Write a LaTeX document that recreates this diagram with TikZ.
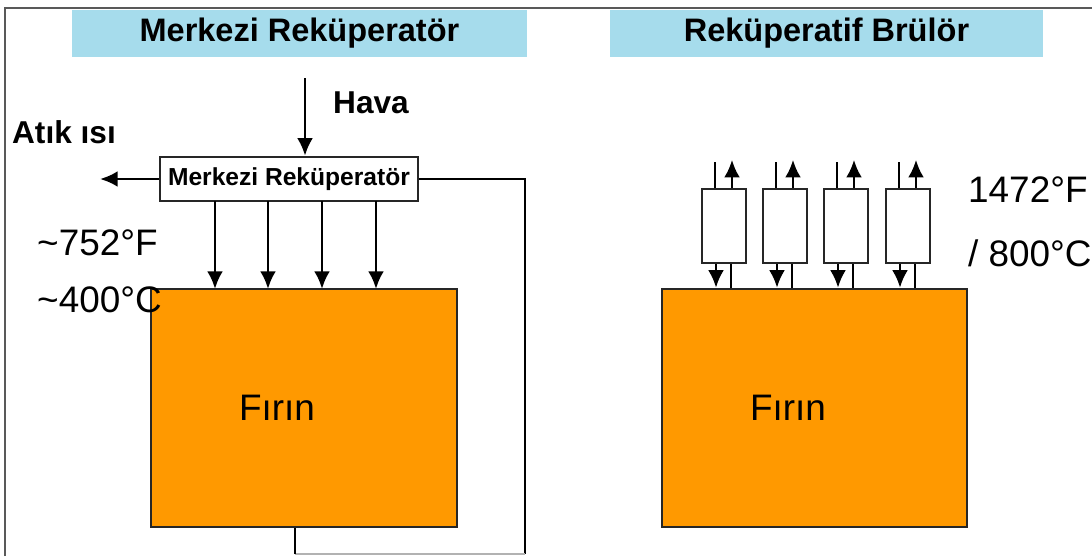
\documentclass[tikz,border=0pt]{standalone}
\usepackage{fontspec}
\setmainfont{Liberation Sans}
\usepackage{xcolor}
\usetikzlibrary{arrows.meta, positioning}
\definecolor{baslik}{HTML}{A6DCEC}
\definecolor{turuncu}{HTML}{FF9900}

\begin{document}
\begin{tikzpicture}[x=0.02cm, y=-0.02cm, >={Latex[length=10pt,width=9pt]},
    flow/.style={->, line width=1.6pt},
    pipe/.style={line width=1.6pt},
    header/.style={fill=baslik, minimum height=0.94cm, font=\bfseries\fontsize{18.5}{20}\selectfont},
    furnace/.style={draw=black!85, line width=1.4pt, fill=turuncu, minimum width=6.12cm, minimum height=4.76cm},
    burner/.style={draw=black!85, line width=1.4pt, fill=white, minimum width=0.88cm, minimum height=1.48cm},
    temp/.style={font=\fontsize{21}{24}\selectfont}]
    \useasboundingbox (0,0) rectangle (1092,556);

    % frame
    \draw[black!65, line width=1.2pt] (5,556) -- (5,8) -- (1092,8);

    % headers
    \node[header, minimum width=9.1cm] (baslik1) at (299.5,33.5) {Merkezi Reküperatör};
    \node[header, minimum width=8.66cm] (baslik2) at (826.5,33.5) {Reküperatif Brülör};

    % left: central recuperator
    \node[draw=black!85, line width=1.4pt, minimum width=5.16cm, minimum height=0.88cm,
          font=\bfseries\fontsize{14}{16}\selectfont] (rekup) at (289,179) {Merkezi Reküperatör};
    \node[furnace] (firin1) at (304,408) {};
    \node[temp] (firin1txt) at (277,408) {Fırın};

    \coordinate (havaust) at (305,78);
    \draw[flow] (havaust) -- (havaust |- rekup.north);
    \node[font=\bfseries\fontsize{18}{20}\selectfont] (hava) at (371,103) {Hava};

    \coordinate (atikuc) at (100,179);
    \draw[flow] (rekup.west) -- (atikuc);
    \node[font=\bfseries\fontsize{18}{20}\selectfont] (atik) at (64,132) {Atık ısı};

    \foreach \x in {215,268,322,376}
        \draw[flow] (\x,201) -- (\x,289);

    % return line
    \coordinate (donus1) at (525,179);
    \coordinate (donus2) at (525,554);
    \coordinate (donus3) at (295,554);
    \draw[pipe] (rekup.east) -- (donus1) -- (donus2);
    \draw[pipe, black!30] (donus2) -- (donus3);
    \draw[pipe] (donus3) -- (firin1.south -| donus3);

    \node[temp, anchor=west] (t1) at (31,243) {\textasciitilde752°F};
    \node[temp, anchor=west] (t2) at (31,300) {\textasciitilde400°C};

    % right: recuperative burners
    \node[furnace, minimum width=6.1cm] (firin2) at (814.5,408) {};
    \node[temp] (firin2txt) at (788,408) {Fırın};

    \foreach \x [count=\i] in {724,785,846,908} {
        \node[burner] (b\i) at (\x,226) {};
        \draw[pipe] ([xshift=-0.18cm]b\i.north) -- ++(0,-26);
        \draw[flow] ([xshift=0.16cm]b\i.north) -- ++(0,-28);
        \draw[flow] ([xshift=-0.16cm]b\i.south) -- ([xshift=-0.16cm]b\i.south |- firin2.north);
        \draw[pipe] ([xshift=0.14cm]b\i.south |- firin2.north) -- ([xshift=0.14cm]b\i.south);
    }

    \node[temp, anchor=west] (t3) at (962,190) {1472°F};
    \node[temp, anchor=west] (t4) at (962,253) {/ 800°C};
\end{tikzpicture}
\end{document}
